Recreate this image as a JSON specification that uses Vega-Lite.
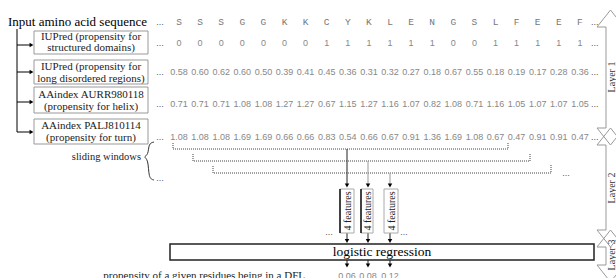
{
"$schema":"https://vega.github.io/schema/vega-lite/v6.json",
"width":616,"height":278,"autosize":{"type":"none"},"padding":0,
"background":"white",
"config":{"view":{"stroke":null}},
"resolve":{"scale":{"x":"independent"}},
"datasets":{
"seq":[
{"pos":0,"residue":"S","structured":0,"disorder":0.58,"helix":0.71,"turn":1.08},
{"pos":1,"residue":"S","structured":0,"disorder":0.60,"helix":0.71,"turn":1.08},
{"pos":2,"residue":"S","structured":0,"disorder":0.62,"helix":0.71,"turn":1.08},
{"pos":3,"residue":"G","structured":0,"disorder":0.60,"helix":1.08,"turn":1.69},
{"pos":4,"residue":"G","structured":0,"disorder":0.50,"helix":1.08,"turn":1.69},
{"pos":5,"residue":"K","structured":0,"disorder":0.39,"helix":1.27,"turn":0.66},
{"pos":6,"residue":"K","structured":0,"disorder":0.41,"helix":1.27,"turn":0.66},
{"pos":7,"residue":"C","structured":1,"disorder":0.45,"helix":0.67,"turn":0.83},
{"pos":8,"residue":"Y","structured":1,"disorder":0.36,"helix":1.15,"turn":0.54},
{"pos":9,"residue":"K","structured":1,"disorder":0.31,"helix":1.27,"turn":0.66},
{"pos":10,"residue":"L","structured":1,"disorder":0.32,"helix":1.16,"turn":0.67},
{"pos":11,"residue":"E","structured":1,"disorder":0.27,"helix":1.07,"turn":0.91},
{"pos":12,"residue":"N","structured":1,"disorder":0.18,"helix":0.82,"turn":1.36},
{"pos":13,"residue":"G","structured":0,"disorder":0.67,"helix":1.08,"turn":1.69},
{"pos":14,"residue":"S","structured":0,"disorder":0.55,"helix":0.71,"turn":1.08},
{"pos":15,"residue":"L","structured":1,"disorder":0.18,"helix":1.16,"turn":0.67},
{"pos":16,"residue":"F","structured":1,"disorder":0.19,"helix":1.05,"turn":0.47},
{"pos":17,"residue":"E","structured":1,"disorder":0.17,"helix":1.07,"turn":0.91},
{"pos":18,"residue":"E","structured":1,"disorder":0.28,"helix":1.07,"turn":0.91},
{"pos":19,"residue":"F","structured":1,"disorder":0.36,"helix":1.05,"turn":0.47}
],
"ellipses":[
{"pos":-0.9,"y":22},{"pos":-0.9,"y":43},{"pos":-0.9,"y":72},{"pos":-0.9,"y":104},{"pos":-0.9,"y":137},
{"pos":19.7,"y":22},{"pos":19.7,"y":43},{"pos":19.7,"y":72},{"pos":19.7,"y":104},{"pos":19.7,"y":137}
],
"title":[{"x":8,"y":22,"t":"Input amino acid sequence"}],
"boxes":[{"x":34,"x2":148,"y":31,"y2":54},{"x":34,"x2":148,"y":60,"y2":84},{"x":34,"x2":148,"y":87,"y2":113},{"x":34,"x2":148,"y":119,"y2":144}],
"boxtext":[
{"x":91,"y":36.5,"t":"IUPred (propensity for"},{"x":91,"y":48,"t":"structured domains)"},
{"x":91,"y":67,"t":"IUPred (propensity for"},{"x":91,"y":78.5,"t":"long disordered regions)"},
{"x":91,"y":95,"t":"AAindex AURR980118"},{"x":91,"y":106.5,"t":"(propensity for helix)"},
{"x":91,"y":126,"t":"AAindex PALJ810114"},{"x":91,"y":137.5,"t":"(propensity for turn)"}
],
"connector":[{"x":17,"x2":17,"y":29,"y2":132},{"x":17,"x2":31,"y":45,"y2":45},{"x":17,"x2":31,"y":72,"y2":72},{"x":17,"x2":31,"y":102,"y2":102},{"x":17,"x2":31,"y":132,"y2":132}],
"headsRight":[{"x":31.5,"y":45},{"x":31.5,"y":72},{"x":31.5,"y":102},{"x":31.5,"y":132}],
"brace":[{"o":0,"x":154,"y":142},{"o":1,"x":148.5,"y":143.5},{"o":2,"x":148.5,"y":155},{"o":3,"x":143,"y":157},{"o":4,"x":148.5,"y":159},{"o":5,"x":148.5,"y":178.5},{"o":6,"x":154,"y":180}],
"sliding":[{"x":141,"y":157,"t":"sliding windows"}],
"dots":[{"x":160,"y":178},{"x":566,"y":173},{"x":329,"y":232},{"x":404,"y":232},{"x":326,"y":276},{"x":406,"y":276}],
"windows":[
{"w":1,"o":0,"x":173,"y":143},{"w":1,"o":1,"x":173,"y":149},{"w":1,"o":2,"x":508,"y":149},{"w":1,"o":3,"x":508,"y":143},
{"w":2,"o":0,"x":193,"y":154},{"w":2,"o":1,"x":193,"y":161},{"w":2,"o":2,"x":530,"y":161},{"w":2,"o":3,"x":530,"y":153},
{"w":3,"o":0,"x":213,"y":166},{"w":3,"o":1,"x":213,"y":173},{"w":3,"o":2,"x":551,"y":173},{"w":3,"o":3,"x":551,"y":165}
],
"arrowDark":[{"x":347,"y":149,"y2":184}],
"arrowGrey":[{"x":368,"y":161,"y2":184},{"x":390,"y":173,"y2":184}],
"shortArrows":[{"x":347,"y":233,"y2":240},{"x":368,"y":233,"y2":240},{"x":390,"y":233,"y2":240},{"x":347,"y":260,"y2":264},{"x":368,"y":260,"y2":264},{"x":390,"y":260,"y2":264}],
"headsDown":[{"x":347,"y":185.5},{"x":368,"y":185.5},{"x":390,"y":185.5},{"x":347,"y":241},{"x":368,"y":241},{"x":390,"y":241},{"x":347,"y":265.5},{"x":368,"y":265.5},{"x":390,"y":265.5}],
"fboxes":[{"x":340,"x2":354,"y":189,"y2":233},{"x":361,"x2":373,"y":189,"y2":233},{"x":384,"x2":398,"y":189,"y2":233}],
"fedges":[{"x":340,"y":189,"y2":233},{"x":361,"y":189,"y2":233}],
"ftext":[{"x":347.5,"y":211,"t":"4 features"},{"x":367.5,"y":211,"t":"4 features"},{"x":391.5,"y":211,"t":"4 features"}],
"lrbox":[{"x":170,"x2":594,"y":244,"y2":260}],
"lrtext":[{"x":382,"y":252,"t":"logistic regression"}],
"outlabel":[{"x":305,"y":276,"t":"propensity of a given residues being in a DFL"}],
"output":[{"x":347,"y":276,"p":0.06},{"x":368,"y":276,"p":0.08},{"x":390,"y":276,"p":0.12}],
"shapes":[
{"l":1,"o":0,"x":617,"y":27},{"l":1,"o":1,"x":624,"y":27},{"l":1,"o":2,"x":610.5,"y":10},{"l":1,"o":3,"x":597,"y":27},{"l":1,"o":4,"x":606,"y":27},{"l":1,"o":5,"x":606,"y":128},{"l":1,"o":6,"x":597,"y":128},{"l":1,"o":7,"x":610.5,"y":145},{"l":1,"o":8,"x":624,"y":128},{"l":1,"o":9,"x":617,"y":128},
{"l":2,"o":0,"x":617,"y":145},{"l":2,"o":1,"x":624,"y":145},{"l":2,"o":2,"x":610.5,"y":128},{"l":2,"o":3,"x":597,"y":145},{"l":2,"o":4,"x":606,"y":145},{"l":2,"o":5,"x":606,"y":230},{"l":2,"o":6,"x":597,"y":230},{"l":2,"o":7,"x":610.5,"y":247},{"l":2,"o":8,"x":624,"y":230},{"l":2,"o":9,"x":617,"y":230},
{"l":3,"o":0,"x":617,"y":247},{"l":3,"o":1,"x":624,"y":247},{"l":3,"o":2,"x":610.5,"y":230},{"l":3,"o":3,"x":597,"y":247},{"l":3,"o":4,"x":606,"y":247},{"l":3,"o":5,"x":606,"y":265},{"l":3,"o":6,"x":597,"y":265},{"l":3,"o":7,"x":610.5,"y":282},{"l":3,"o":8,"x":624,"y":265},{"l":3,"o":9,"x":617,"y":265}
],
"layerlabels":[{"x":611.5,"y":77,"t":"Layer 1"},{"x":611.5,"y":188,"t":"Layer 2"},{"x":611.5,"y":255,"t":"Layer 3"}]
},
"layer":[
{"data":{"name":"shapes"},"mark":{"type":"line","color":"#999","strokeWidth":1,"clip":true},
 "encoding":{"x":{"field":"x","type":"quantitative","scale":{"domain":[0,616],"nice":false,"zero":false},"axis":null},
 "y":{"field":"y","type":"quantitative","scale":{"domain":[0,278],"reverse":true,"nice":false,"zero":false},"axis":null},
 "detail":{"field":"l"},"order":{"field":"o"}}},
{"data":{"name":"layerlabels"},"mark":{"type":"text","angle":270,"align":"center","baseline":"middle","font":"Liberation Serif","fontSize":10,"fill":"#333"},
 "encoding":{"x":{"field":"x","type":"quantitative","scale":{"domain":[0,616],"nice":false,"zero":false},"axis":null},
 "y":{"field":"y","type":"quantitative","scale":{"domain":[0,278],"reverse":true,"nice":false,"zero":false},"axis":null},
 "text":{"field":"t"}}},
{"data":{"name":"title"},"mark":{"type":"text","align":"left","baseline":"middle","font":"Liberation Serif","fontSize":13,"fill":"#000"},
 "encoding":{"x":{"field":"x","type":"quantitative","scale":{"domain":[0,616],"nice":false,"zero":false},"axis":null},
 "y":{"field":"y","type":"quantitative","scale":{"domain":[0,278],"reverse":true,"nice":false,"zero":false},"axis":null},
 "text":{"field":"t"}}},
{"data":{"name":"seq"},"mark":{"type":"text","align":"center","baseline":"middle","font":"Liberation Mono","fontSize":9.5,"fill":"#777"},
 "encoding":{"x":{"field":"pos","type":"quantitative","scale":{"domain":[-8.4834,20.7109],"nice":false,"zero":false},"axis":null},
 "y":{"datum":22,"type":"quantitative","scale":{"domain":[0,278],"reverse":true,"nice":false,"zero":false},"axis":null},
 "text":{"field":"residue"}}},
{"data":{"name":"seq"},"mark":{"type":"text","align":"center","baseline":"middle","font":"Liberation Sans","fontSize":9,"fill":"#888"},
 "encoding":{"x":{"field":"pos","type":"quantitative","scale":{"domain":[-8.4834,20.7109],"nice":false,"zero":false},"axis":null},
 "y":{"datum":43,"type":"quantitative","scale":{"domain":[0,278],"reverse":true,"nice":false,"zero":false},"axis":null},
 "text":{"field":"structured","type":"quantitative","format":"d"}}},
{"data":{"name":"seq"},"mark":{"type":"text","align":"center","baseline":"middle","font":"Liberation Sans","fontSize":9,"fill":"#888"},
 "encoding":{"x":{"field":"pos","type":"quantitative","scale":{"domain":[-8.4834,20.7109],"nice":false,"zero":false},"axis":null},
 "y":{"datum":72,"type":"quantitative","scale":{"domain":[0,278],"reverse":true,"nice":false,"zero":false},"axis":null},
 "text":{"field":"disorder","type":"quantitative","format":".2f"}}},
{"data":{"name":"seq"},"mark":{"type":"text","align":"center","baseline":"middle","font":"Liberation Sans","fontSize":9,"fill":"#888"},
 "encoding":{"x":{"field":"pos","type":"quantitative","scale":{"domain":[-8.4834,20.7109],"nice":false,"zero":false},"axis":null},
 "y":{"datum":104,"type":"quantitative","scale":{"domain":[0,278],"reverse":true,"nice":false,"zero":false},"axis":null},
 "text":{"field":"helix","type":"quantitative","format":".2f"}}},
{"data":{"name":"seq"},"mark":{"type":"text","align":"center","baseline":"middle","font":"Liberation Sans","fontSize":9,"fill":"#888"},
 "encoding":{"x":{"field":"pos","type":"quantitative","scale":{"domain":[-8.4834,20.7109],"nice":false,"zero":false},"axis":null},
 "y":{"datum":137,"type":"quantitative","scale":{"domain":[0,278],"reverse":true,"nice":false,"zero":false},"axis":null},
 "text":{"field":"turn","type":"quantitative","format":".2f"}}},
{"data":{"name":"ellipses"},"mark":{"type":"text","align":"center","baseline":"middle","font":"Liberation Sans","fontSize":9,"fill":"#555","text":"..."},
 "encoding":{"x":{"field":"pos","type":"quantitative","scale":{"domain":[-8.4834,20.7109],"nice":false,"zero":false},"axis":null},
 "y":{"field":"y","type":"quantitative","scale":{"domain":[0,278],"reverse":true,"nice":false,"zero":false},"axis":null}}},
{"data":{"name":"boxes"},"mark":{"type":"rect","fill":"white","stroke":"#999","strokeWidth":1},
 "encoding":{"x":{"field":"x","type":"quantitative","scale":{"domain":[0,616],"nice":false,"zero":false},"axis":null},"x2":{"field":"x2"},
 "y":{"field":"y","type":"quantitative","scale":{"domain":[0,278],"reverse":true,"nice":false,"zero":false},"axis":null},"y2":{"field":"y2"}}},
{"data":{"name":"boxtext"},"mark":{"type":"text","align":"center","baseline":"middle","font":"Liberation Serif","fontSize":11,"fill":"#222"},
 "encoding":{"x":{"field":"x","type":"quantitative","scale":{"domain":[0,616],"nice":false,"zero":false},"axis":null},
 "y":{"field":"y","type":"quantitative","scale":{"domain":[0,278],"reverse":true,"nice":false,"zero":false},"axis":null},
 "text":{"field":"t"}}},
{"data":{"name":"connector"},"mark":{"type":"rule","color":"#000","strokeWidth":1},
 "encoding":{"x":{"field":"x","type":"quantitative","scale":{"domain":[0,616],"nice":false,"zero":false},"axis":null},"x2":{"field":"x2"},
 "y":{"field":"y","type":"quantitative","scale":{"domain":[0,278],"reverse":true,"nice":false,"zero":false},"axis":null},"y2":{"field":"y2"}}},
{"data":{"name":"headsRight"},"mark":{"type":"point","shape":"triangle-right","filled":true,"color":"#000","size":20,"opacity":1},
 "encoding":{"x":{"field":"x","type":"quantitative","scale":{"domain":[0,616],"nice":false,"zero":false},"axis":null},
 "y":{"field":"y","type":"quantitative","scale":{"domain":[0,278],"reverse":true,"nice":false,"zero":false},"axis":null}}},
{"data":{"name":"brace"},"mark":{"type":"line","color":"#333","strokeWidth":1,"interpolate":"basis"},
 "encoding":{"x":{"field":"x","type":"quantitative","scale":{"domain":[0,616],"nice":false,"zero":false},"axis":null},
 "y":{"field":"y","type":"quantitative","scale":{"domain":[0,278],"reverse":true,"nice":false,"zero":false},"axis":null},
 "order":{"field":"o"}}},
{"data":{"name":"sliding"},"mark":{"type":"text","align":"right","baseline":"middle","font":"Liberation Serif","fontSize":10.5,"fill":"#222"},
 "encoding":{"x":{"field":"x","type":"quantitative","scale":{"domain":[0,616],"nice":false,"zero":false},"axis":null},
 "y":{"field":"y","type":"quantitative","scale":{"domain":[0,278],"reverse":true,"nice":false,"zero":false},"axis":null},
 "text":{"field":"t"}}},
{"data":{"name":"dots"},"mark":{"type":"text","align":"center","baseline":"middle","font":"Liberation Sans","fontSize":9,"fill":"#555","text":"..."},
 "encoding":{"x":{"field":"x","type":"quantitative","scale":{"domain":[0,616],"nice":false,"zero":false},"axis":null},
 "y":{"field":"y","type":"quantitative","scale":{"domain":[0,278],"reverse":true,"nice":false,"zero":false},"axis":null}}},
{"data":{"name":"windows"},"mark":{"type":"line","color":"#444","strokeWidth":1,"strokeDash":[1,1]},
 "encoding":{"x":{"field":"x","type":"quantitative","scale":{"domain":[0,616],"nice":false,"zero":false},"axis":null},
 "y":{"field":"y","type":"quantitative","scale":{"domain":[0,278],"reverse":true,"nice":false,"zero":false},"axis":null},
 "detail":{"field":"w"},"order":{"field":"o"}}},
{"data":{"name":"arrowDark"},"mark":{"type":"rule","color":"#222","strokeWidth":1},
 "encoding":{"x":{"field":"x","type":"quantitative","scale":{"domain":[0,616],"nice":false,"zero":false},"axis":null},
 "y":{"field":"y","type":"quantitative","scale":{"domain":[0,278],"reverse":true,"nice":false,"zero":false},"axis":null},"y2":{"field":"y2"}}},
{"data":{"name":"arrowGrey"},"mark":{"type":"rule","color":"#999","strokeWidth":1},
 "encoding":{"x":{"field":"x","type":"quantitative","scale":{"domain":[0,616],"nice":false,"zero":false},"axis":null},
 "y":{"field":"y","type":"quantitative","scale":{"domain":[0,278],"reverse":true,"nice":false,"zero":false},"axis":null},"y2":{"field":"y2"}}},
{"data":{"name":"shortArrows"},"mark":{"type":"rule","color":"#222","strokeWidth":1},
 "encoding":{"x":{"field":"x","type":"quantitative","scale":{"domain":[0,616],"nice":false,"zero":false},"axis":null},
 "y":{"field":"y","type":"quantitative","scale":{"domain":[0,278],"reverse":true,"nice":false,"zero":false},"axis":null},"y2":{"field":"y2"}}},
{"data":{"name":"fboxes"},"mark":{"type":"rect","fill":"white","stroke":"#aaa","strokeWidth":1},
 "encoding":{"x":{"field":"x","type":"quantitative","scale":{"domain":[0,616],"nice":false,"zero":false},"axis":null},"x2":{"field":"x2"},
 "y":{"field":"y","type":"quantitative","scale":{"domain":[0,278],"reverse":true,"nice":false,"zero":false},"axis":null},"y2":{"field":"y2"}}},
{"data":{"name":"fedges"},"mark":{"type":"rule","color":"#111","strokeWidth":1.5},
 "encoding":{"x":{"field":"x","type":"quantitative","scale":{"domain":[0,616],"nice":false,"zero":false},"axis":null},
 "y":{"field":"y","type":"quantitative","scale":{"domain":[0,278],"reverse":true,"nice":false,"zero":false},"axis":null},"y2":{"field":"y2"}}},
{"data":{"name":"ftext"},"mark":{"type":"text","angle":270,"align":"center","baseline":"middle","font":"Liberation Serif","fontSize":10,"fill":"#222"},
 "encoding":{"x":{"field":"x","type":"quantitative","scale":{"domain":[0,616],"nice":false,"zero":false},"axis":null},
 "y":{"field":"y","type":"quantitative","scale":{"domain":[0,278],"reverse":true,"nice":false,"zero":false},"axis":null},
 "text":{"field":"t"}}},
{"data":{"name":"lrbox"},"mark":{"type":"rect","fill":"white","stroke":"#222","strokeWidth":1.5},
 "encoding":{"x":{"field":"x","type":"quantitative","scale":{"domain":[0,616],"nice":false,"zero":false},"axis":null},"x2":{"field":"x2"},
 "y":{"field":"y","type":"quantitative","scale":{"domain":[0,278],"reverse":true,"nice":false,"zero":false},"axis":null},"y2":{"field":"y2"}}},
{"data":{"name":"lrtext"},"mark":{"type":"text","align":"center","baseline":"middle","font":"Liberation Serif","fontSize":13.5,"fill":"#000"},
 "encoding":{"x":{"field":"x","type":"quantitative","scale":{"domain":[0,616],"nice":false,"zero":false},"axis":null},
 "y":{"field":"y","type":"quantitative","scale":{"domain":[0,278],"reverse":true,"nice":false,"zero":false},"axis":null},
 "text":{"field":"t"}}},
{"data":{"name":"headsDown"},"mark":{"type":"point","shape":"triangle-down","filled":true,"color":"#000","size":20,"opacity":1},
 "encoding":{"x":{"field":"x","type":"quantitative","scale":{"domain":[0,616],"nice":false,"zero":false},"axis":null},
 "y":{"field":"y","type":"quantitative","scale":{"domain":[0,278],"reverse":true,"nice":false,"zero":false},"axis":null}}},
{"data":{"name":"outlabel"},"mark":{"type":"text","align":"right","baseline":"middle","font":"Liberation Serif","fontSize":11,"fill":"#222"},
 "encoding":{"x":{"field":"x","type":"quantitative","scale":{"domain":[0,616],"nice":false,"zero":false},"axis":null},
 "y":{"field":"y","type":"quantitative","scale":{"domain":[0,278],"reverse":true,"nice":false,"zero":false},"axis":null},
 "text":{"field":"t"}}},
{"data":{"name":"output"},"mark":{"type":"text","align":"center","baseline":"middle","font":"Liberation Sans","fontSize":9,"fill":"#888"},
 "encoding":{"x":{"field":"x","type":"quantitative","scale":{"domain":[0,616],"nice":false,"zero":false},"axis":null},
 "y":{"field":"y","type":"quantitative","scale":{"domain":[0,278],"reverse":true,"nice":false,"zero":false},"axis":null},
 "text":{"field":"p","type":"quantitative","format":".2f"}}}
]
}
